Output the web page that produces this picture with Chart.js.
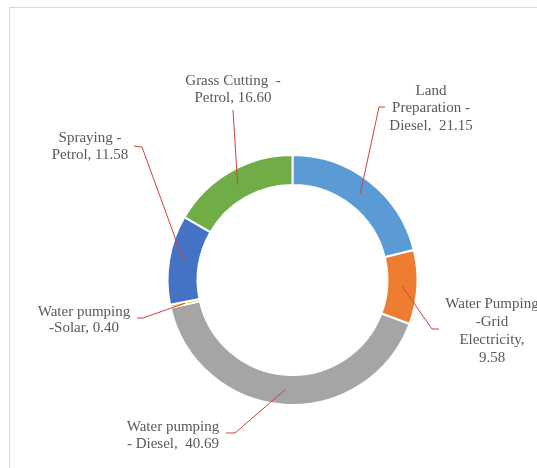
<!DOCTYPE html>
<html>
<head>
    <script src="https://cdn.jsdelivr.net/npm/chart.js"></script>
    <style>
        body { margin: 0; overflow: hidden; background: #fff; }
        #wrap { position: relative; width: 537px; height: 468px; }
        #frame { position: absolute; left: 9px; top: 7px; width: 700px; height: 700px; border: 1px solid #d9d9d9; }
        canvas { position: absolute; left: 0; top: 0; }
    </style>
</head>
<body>
    <div id="wrap">
        <div id="frame"></div>
        <canvas id="chartId" width="537" height="468"></canvas>
    </div>
    <script>
        // data
        const categories = ['Land Preparation - Diesel', 'Water Pumping -Grid Electricity', 'Water pumping - Diesel',
            'Water pumping -Solar', 'Spraying - Petrol', 'Grass Cutting - Petrol'];
        const values = [21.15, 9.58, 40.69, 0.40, 11.58, 16.60];
        const labelLines = [
            ['Land', 'Preparation -', 'Diesel,  21.15'],
            ['Water Pumping', '-Grid', 'Electricity,', '9.58'],
            ['Water pumping', '- Diesel,  40.69'],
            ['Water pumping', '-Solar, 0.40'],
            ['Spraying -', 'Petrol, 11.58'],
            ['Grass Cutting  -', 'Petrol, 16.60']
        ];
        const colors = ['#5b9bd5', '#ed7d31', '#a5a5a5', '#ffc000', '#4472c4', '#70ad47'];

        // label layout: text centre x, first line y, line gap, leader tail & elbow
        const labelLayout = [
            { x: 431, y: 91, gap: 17.5, tail: [385, 107], elbow: [379, 107] },
            { x: 492, y: 304, gap: 18, tail: [439, 329], elbow: [432, 329] },
            { x: 173, y: 427, gap: 17, tail: [226, 433], elbow: [235, 433] },
            { x: 84, y: 312, gap: 16.5, tail: [137, 318], elbow: [143, 318] },
            { x: 90, y: 138, gap: 17, tail: [134, 146], elbow: [142, 147] },
            { x: 233, y: 81, gap: 17, tail: [233, 110], elbow: [233, 110] }
        ];

        const labelPlugin = {
            id: 'outLabels',
            afterDatasetsDraw(chart) {
                const ctx = chart.ctx;
                const arcs = chart.getDatasetMeta(0).data;
                ctx.save();
                ctx.strokeStyle = '#d0403c';
                ctx.lineWidth = 1;
                arcs.forEach((arc, i) => {
                    const p = arc.tooltipPosition();
                    const l = labelLayout[i];
                    ctx.beginPath();
                    ctx.moveTo(l.tail[0], l.tail[1]);
                    ctx.lineTo(l.elbow[0], l.elbow[1]);
                    ctx.lineTo(p.x, p.y);
                    ctx.stroke();
                });
                ctx.fillStyle = '#595959';
                ctx.font = '15px "Liberation Serif", "Times New Roman", serif';
                ctx.textAlign = 'center';
                ctx.textBaseline = 'middle';
                labelLines.forEach((lines, i) => {
                    const l = labelLayout[i];
                    lines.forEach((t, k) => ctx.fillText(t, l.x, l.y + k * l.gap));
                });
                ctx.restore();
            }
        };

        new Chart(document.getElementById('chartId'), {
            type: 'doughnut',
            data: {
                labels: categories,
                datasets: [{
                    data: values,
                    backgroundColor: colors,
                    borderColor: '#ffffff',
                    borderWidth: 2
                }]
            },
            options: {
                responsive: false,
                animation: false,
                events: [],
                radius: 125,
                cutout: '76%',
                layout: { padding: { left: 48, right: 0, top: 92, bottom: 0 } },
                plugins: {
                    legend: { display: false },
                    tooltip: { enabled: false }
                }
            },
            plugins: [labelPlugin]
        });
    </script>
</body>
</html>
